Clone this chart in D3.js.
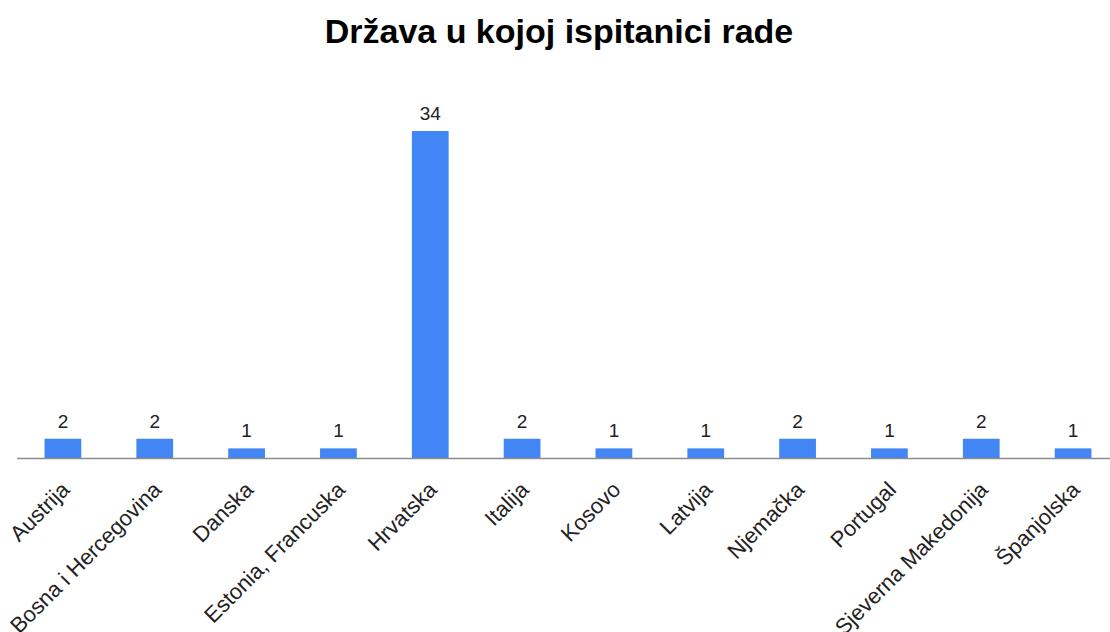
<!DOCTYPE html>
<html>
<head>
<meta charset="utf-8">
<script src="https://cdn.jsdelivr.net/npm/d3@7"></script>
<style>
  body { margin: 0; background: #fff; }
  text { font-family: "Liberation Sans", Arial, sans-serif; }
</style>
</head>
<body>
<div id="chart"></div>
<script>
var countries = ['Austrija', 'Bosna i Hercegovina', 'Danska', 'Estonia, Francuska', 'Hrvatska',
	'Italija', 'Kosovo', 'Latvija', 'Njemačka', 'Portugal', 'Sjeverna Makedonija', 'Španjolska'];
var counts = [2, 2, 1, 1, 34, 2, 1, 1, 2, 1, 2, 1];

var width = 1110;
var height = 632;
var base_y = 458;

var data = countries.map(function (c, i) {
	return { name: c, num: counts[i] };
});

var svg = d3.select('#chart')
	.append('svg')
	.attr('width', width)
	.attr('height', height);

// title
svg.append('text')
	.attr('x', 559)
	.attr('y', 43)
	.attr('text-anchor', 'middle')
	.style('font-size', '34px')
	.style('font-weight', 'bold')
	.attr('fill', '#000')
	.text('Država u kojoj ispitanici rade');

// scales
var x_scale = d3.scaleBand()
	.domain(countries)
	.range([17, 1119])
	.paddingInner(0.6)
	.paddingOuter(0.3);
var y_scale = d3.scaleLinear()
	.domain([0, 34])
	.range([base_y, 131]);

// bars
svg.selectAll('rect.bar')
	.data(data)
	.enter()
	.append('rect')
	.attr('class', 'bar')
	.attr('x', function (d) { return x_scale(d.name); })
	.attr('y', function (d) { return y_scale(d.num); })
	.attr('width', x_scale.bandwidth())
	.attr('height', function (d) { return base_y - y_scale(d.num); })
	.attr('fill', '#4285f4');

// value labels
svg.selectAll('text.val')
	.data(data)
	.enter()
	.append('text')
	.attr('class', 'val')
	.attr('x', function (d) { return x_scale(d.name) + x_scale.bandwidth() / 2; })
	.attr('y', function (d) { return y_scale(d.num) - 11; })
	.attr('text-anchor', 'middle')
	.style('font-size', '19px')
	.attr('fill', '#222')
	.text(function (d) { return d.num; });

// x axis
var x_axis = d3.axisBottom(x_scale).tickSize(0).tickPadding(0);
var gx = svg.append('g')
	.attr('transform', 'translate(0,' + base_y + ')')
	.call(x_axis);
gx.select('.domain')
	.attr('d', 'M17,0.5H1110')
	.attr('stroke', '#8c8c8c')
	.attr('stroke-width', 1.5);
gx.selectAll('.tick text')
	.attr('text-anchor', 'end')
	.attr('dy', null)
	.attr('y', 0)
	.attr('transform', 'translate(8,33) rotate(-45)')
	.style('font-size', '22px')
	.style('font-family', '"Liberation Sans", Arial, sans-serif')
	.attr('fill', '#222');
</script>
</body>
</html>
